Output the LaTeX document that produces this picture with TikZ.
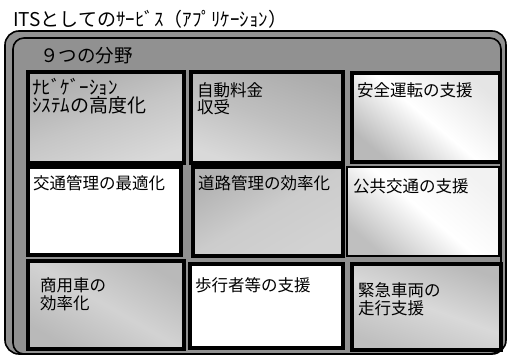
\documentclass[tikz,border=0pt]{standalone}
\usepackage{fontspec}
\setmainfont{Noto Sans CJK JP}
\definecolor{panel}{RGB}{145,145,145}
\tikzset{
  cellbox/.style={draw=black, line width=4pt},
  lbl/.style={inner sep=0pt, anchor=base west, font=\fontsize{16.5}{19}\selectfont},
  lblsmall/.style={inner sep=0pt, anchor=base west, font=\fontsize{19}{19}\selectfont},
}
\begin{document}
\begin{tikzpicture}[x=1pt,y=-1pt]
\useasboundingbox (0,0) rectangle (509,356);
\fill[white] (0,0) rectangle (509,356);
% title
\node[inner sep=0pt, anchor=base west, font=\fontsize{19}{20}\selectfont] (title) at (13,26) {ITSとしてのｻｰﾋﾞｽ（ｱﾌﾟﾘｹｰｼｮﾝ）};
% frame
\draw[line width=1.6pt, fill=panel, rounded corners=14pt] (5,31) rectangle (506,354) node[coordinate] (frameout) {};
\draw[line width=1.6pt, rounded corners=11pt] (13,38) rectangle (501,354) node[coordinate] (framein) {};
\node[inner sep=0pt, anchor=base west, font=\fontsize{18.5}{20}\selectfont] (head) at (40,62) {９つの分野};
% cells
\path[cellbox, top color=gray!65, bottom color=gray!30, middle color=gray!45, shading angle=20] (28,72) rectangle (184,163) node[coordinate] (b1) {};
\path[cellbox, top color=gray!65, bottom color=gray!30, middle color=gray!50, shading angle=-20] (191,72) rectangle (343,163) node[coordinate] (b2) {};
\path[cellbox, left color=gray!20, right color=gray!55, middle color=white, shading angle=-40] (352,73) rectangle (500,162) node[coordinate] (b3) {};
\path[cellbox, fill=white] (28,167) rectangle (181,255) node[coordinate] (b4) {};
\path[cellbox, top color=gray!60, bottom color=gray!35, middle color=gray!40, shading angle=30] (193,167) rectangle (343,256) node[coordinate] (b5) {};
\path[draw=black, line width=2.5pt, left color=gray!10, right color=gray!50, middle color=white, shading angle=-40] (347,167) rectangle (499,256) node[coordinate] (b6) {};
\path[cellbox, top color=gray!55, bottom color=gray!55, middle color=gray!35, shading angle=-30] (28,261) rectangle (184,349) node[coordinate] (b7) {};
\path[cellbox, fill=white] (190,264) rectangle (343,348) node[coordinate] (b8) {};
\path[cellbox, top color=gray!55, bottom color=gray!50, middle color=gray!30, shading angle=-20] (352,264) rectangle (501,350) node[coordinate] (b9) {};
% labels
\node[lblsmall] (t1a) at (32,94) {ﾅﾋﾞｹﾞｰｼｮﾝ};
\node[lblsmall] (t1b) at (32,112) {ｼｽﾃﾑの高度化};
\node[lbl] (t2a) at (197,96) {自動料金};
\node[lbl] (t2b) at (197,113) {収受};
\node[lbl] (t3) at (357,96) {安全運転の支援};
\node[lbl] (t4) at (33,189) {交通管理の最適化};
\node[lbl] (t5) at (198,189) {道路管理の効率化};
\node[lbl] (t6) at (353,192) {公共交通の支援};
\node[lbl] (t7a) at (40,291) {商用車の};
\node[lbl] (t7b) at (40,309) {効率化};
\node[lbl] (t8) at (195,291) {歩行者等の支援};
\node[lbl] (t9a) at (358,296) {緊急車両の};
\node[lbl] (t9b) at (358,314) {走行支援};
\end{tikzpicture}
\end{document}
